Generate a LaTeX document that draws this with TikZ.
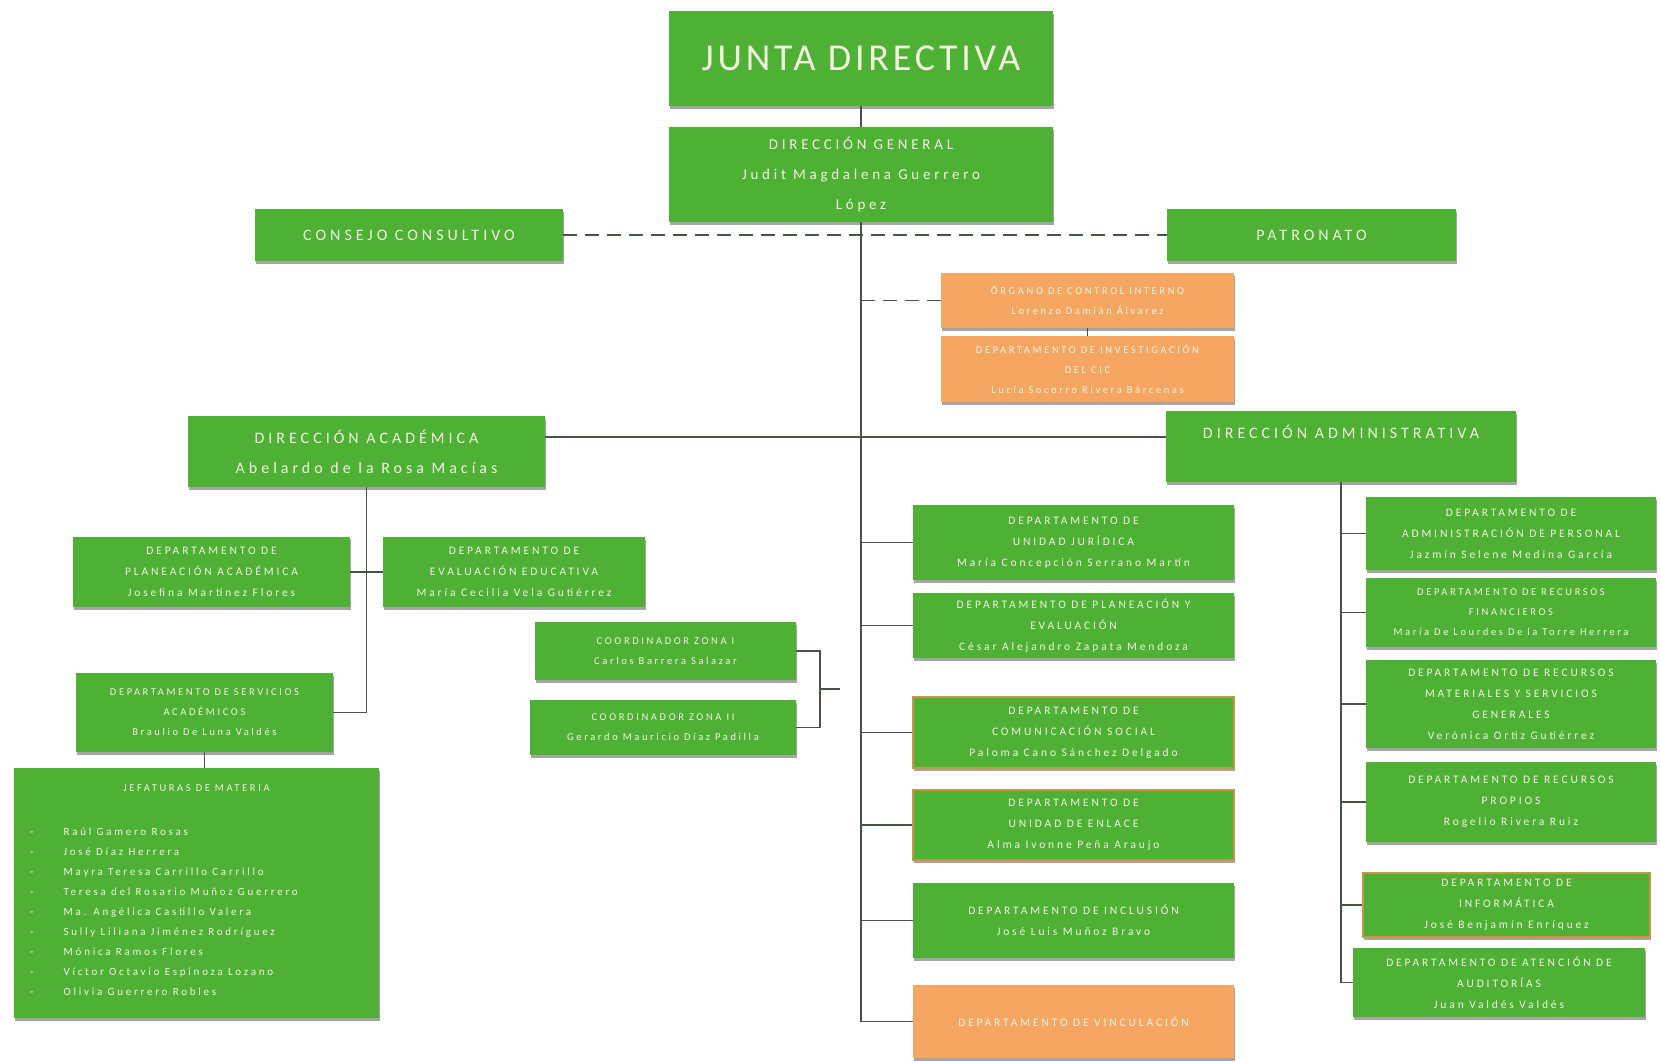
\documentclass[tikz,border=0pt]{standalone}
\usepackage{fontspec}
\setmainfont{Carlito}
\newfontfamily\spc[LetterSpace=25]{Carlito}
\newfontfamily\ttl[LetterSpace=10]{Carlito}
\usetikzlibrary{shadows,calc}
\definecolor{gfill}{RGB}{78,176,52}
\definecolor{ofill}{RGB}{244,166,98}
\definecolor{tcol}{RGB}{240,246,222}
\definecolor{lcol}{RGB}{70,85,70}
\definecolor{obord}{RGB}{196,150,70}
\tikzset{
 box/.style={rectangle, fill=gfill, inner sep=1pt, align=center, text=tcol,
   font=\spc\fontsize{11.5}{21}\selectfont,
   drop shadow={shadow xshift=0.8pt, shadow yshift=-3pt, fill=black!70, opacity=0.5}},
 obox/.style={box, fill=ofill},
 tbox/.style={box, draw=obord, line width=1.6pt},
 big/.style={font=\spc\fontsize{16}{30}\selectfont},
 small/.style={font=\spc\fontsize{10.5}{20}\selectfont},
 link/.style={draw=lcol, line width=1.3pt},
 dlink/.style={link, dash pattern=on 14pt off 8pt},
}
\begin{document}
\begin{tikzpicture}[x=1pt,y=-1pt]
\path[use as bounding box, fill=white] (0,0) rectangle (1660,1062);

\node[box, minimum width=384pt, minimum height=95pt, font=\ttl\fontsize{38}{42}\selectfont] (jd) at (861,58.5) {JUNTA DIRECTIVA};
\node[box, font=\spc\fontsize{15}{30}\selectfont, minimum width=384pt, minimum height=95pt] (dg) at (861,174.5) {DIRECCIÓN GENERAL\\Judit Magdalena Guerrero\\López};
\node[box, big, minimum width=308pt, minimum height=52pt] (cc) at (409,235) {CONSEJO CONSULTIVO};
\node[box, big, minimum width=289pt, minimum height=52pt] (pat) at (1311.5,235) {PATRONATO};
\node[obox, small, minimum width=293pt, minimum height=55pt] (oci) at (1087.5,300.5) {ÓRGANO DE CONTROL INTERNO\\Lorenzo Damián Álvarez};
\node[obox, small, minimum width=293pt, minimum height=66pt] (inv) at (1087.5,369) {DEPARTAMENTO DE INVESTIGACIÓN\\DEL CIC\\Lucía Socorro Rivera Bárcenas};
\node[box, big, minimum width=357pt, minimum height=71pt] (dac) at (366.5,451.5) {DIRECCIÓN ACADÉMICA\\Abelardo de la Rosa Macías};
\node[box, big, minimum width=350pt, minimum height=71pt] (dad) at (1341,446.5) {DIRECCIÓN ADMINISTRATIVA\\\mbox{}};

\node[box, minimum width=277pt, minimum height=70pt] (pla) at (211.5,572) {DEPARTAMENTO DE\\PLANEACIÓN ACADÉMICA\\Josefina Martínez Flores};
\node[box, minimum width=262pt, minimum height=70pt] (eva) at (514,572) {DEPARTAMENTO DE\\EVALUACIÓN EDUCATIVA\\María Cecilia Vela Gutiérrez};
\node[box, small, minimum width=257pt, minimum height=79pt] (ser) at (204.5,712.5) {DEPARTAMENTO DE SERVICIOS\\ACADÉMICOS\\Braulio De Luna Valdés};
\node[box, minimum width=365pt, minimum height=250pt] (jef) at (196.5,893) {};
\node[text=tcol, font=\spc\fontsize{10.5}{20}\selectfont] (jeft) at (196.5,788) {JEFATURAS DE MATERIA};
\node[text=tcol, font=\spc\fontsize{11}{20}\selectfont, anchor=north west, inner sep=0pt] (jefl) at (30,821) {%
\begin{tabular}{@{}l@{\hspace{30pt}}l@{}}
- & Raúl Gamero Rosas\\
- & José Díaz Herrera\\
- & Mayra Teresa Carrillo Carrillo\\
- & Teresa del Rosario Muñoz Guerrero\\
- & Ma. Angélica Castillo Valera\\
- & Sully Liliana Jiménez Rodríguez\\
- & Mónica Ramos Flores\\
- & Víctor Octavio Espinoza Lozano\\
- & Olivia Guerrero Robles
\end{tabular}};

\node[box, small, minimum width=261pt, minimum height=58pt] (co1) at (665.5,651) {COORDINADOR ZONA I\\Carlos Barrera Salazar};
\node[box, small, minimum width=266pt, minimum height=55pt] (co2) at (663,727.5) {COORDINADOR ZONA II\\Gerardo Mauricio Díaz Padilla};

\node[box, minimum width=321pt, minimum height=75pt] (jur) at (1073.5,542.5) {DEPARTAMENTO DE\\UNIDAD JURÍDICA\\María Concepción Serrano Martín};
\node[box, minimum width=321pt, minimum height=65pt] (ple) at (1073.5,625.5) {DEPARTAMENTO DE PLANEACIÓN Y\\EVALUACIÓN\\César Alejandro Zapata Mendoza};
\node[tbox, minimum width=321pt, minimum height=71pt] (com) at (1073.5,732.5) {DEPARTAMENTO DE\\COMUNICACIÓN SOCIAL\\Paloma Cano Sánchez Delgado};
\node[tbox, minimum width=321pt, minimum height=70pt] (enl) at (1073.5,825) {DEPARTAMENTO DE\\UNIDAD DE ENLACE\\Alma Ivonne Peña Araujo};
\node[box, minimum width=321pt, minimum height=75pt] (inc) at (1073.5,920.5) {DEPARTAMENTO DE INCLUSIÓN\\José Luis Muñoz Bravo};
\node[obox, minimum width=321pt, minimum height=73pt] (vin) at (1073.5,1021.5) {DEPARTAMENTO DE VINCULACIÓN};

\node[box, minimum width=290pt, minimum height=73pt] (per) at (1511,533.5) {DEPARTAMENTO DE\\ADMINISTRACIÓN DE PERSONAL\\Jazmín Selene Medina García};
\node[box, small, minimum width=290pt, minimum height=69pt] (fin) at (1511,612.5) {DEPARTAMENTO DE RECURSOS\\FINANCIEROS\\María De Lourdes De la Torre Herrera};
\node[box, minimum width=290pt, minimum height=88pt] (mat) at (1511,704) {DEPARTAMENTO DE RECURSOS\\MATERIALES Y SERVICIOS\\GENERALES\\Verónica Ortiz Gutiérrez};
\node[box, minimum width=290pt, minimum height=80pt] (pro) at (1511,802) {DEPARTAMENTO DE RECURSOS\\PROPIOS\\Rogelio Rivera Ruiz};
\node[tbox, minimum width=287pt, minimum height=64pt] (inf) at (1506.5,905) {DEPARTAMENTO DE\\INFORMÁTICA\\José Benjamín Enríquez};
\node[box, minimum width=292pt, minimum height=69pt] (aud) at (1499,982.5) {DEPARTAMENTO DE ATENCIÓN DE\\AUDITORÍAS\\Juan Valdés Valdés};

% connectors
\draw[link] (jd) -- (dg);
\foreach \n in {jur,ple,com,enl,inc,vin} \draw[link] (dg.south) |- (\n.west);
\draw[dlink] (cc.east) -- (pat.west);
\coordinate (oc) at (861,300.5);
\draw[dlink] (oc) -- (oci.west);
\draw[link] (oci) -- (inv);
\draw[link] ([yshift=14.5pt]dac.east) -- ([yshift=9.5pt]dad.west);
\draw[link] (dac.south) |- (ser.east);
\draw[link] (pla.east) -- (eva.west);
\draw[link] (ser.south) -- (ser.south |- jef.north);
\foreach \n in {per,fin,mat,pro,inf,aud} \draw[link] (dad.south) |- (\n.west);
\coordinate (cb) at (820,689);
\coordinate (cm) at (840,689);
\draw[link] (co1.east) -| (cb) |- (co2.east);
\draw[link] (cb) -- (cm);
\end{tikzpicture}
\end{document}
